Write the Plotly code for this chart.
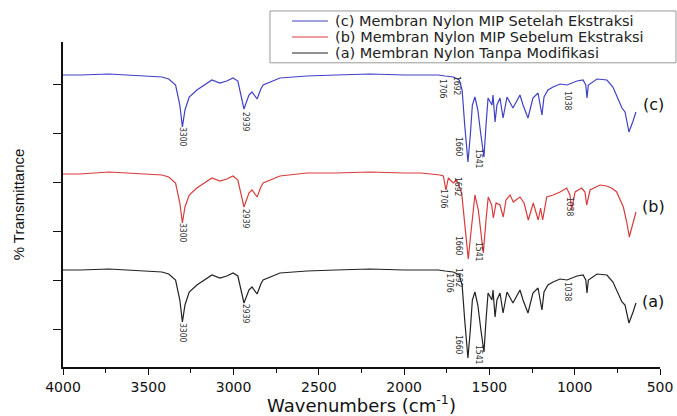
import plotly.graph_objects as go

# ---------------- data ----------------
# Wavenumber grid shared by spectra (a) and (c)
wn_ac = [4000, 3900, 3730, 3600, 3490, 3420, 3380, 3340, 3315, 3300, 3285, 3260, 3215,
         3127, 3080, 3040, 3003, 2975, 2939, 2910, 2892, 2862, 2840, 2827, 2728, 2570,
         2400, 2200, 2000, 1900, 1800, 1760, 1712, 1677, 1660, 1645, 1626, 1612, 1600,
         1585, 1568, 1550, 1532, 1520, 1508, 1485, 1479, 1467, 1456, 1438, 1420, 1397,
         1379, 1362, 1321, 1303, 1274, 1245, 1215, 1192, 1180, 1157, 1127, 1086, 1045,
         987, 951, 935, 928, 920, 869, 811, 776, 746, 723, 705, 682, 658, 641]

# (a) Membran Nylon Tanpa Modifikasi (offset transmittance, arbitrary units)
t_a = [97, 97, 98, 97, 96, 95, 93, 87, 67, 45, 62, 75, 82,
       92, 89, 91, 94, 91, 64, 77, 80, 73, 83, 87, 94, 96,
       97, 98, 97, 97, 97, 96, 95, 92, 82, 47, 9, 37, 67,
       75, 62, 37, 15, 47, 74, 67, 77, 50, 67, 74, 54, 75,
       69, 64, 77, 67, 54, 74, 79, 57, 75, 82, 85, 88, 87,
       91, 92, 87, 74, 87, 93, 92, 85, 74, 65, 62, 44, 55, 64]

# (c) Membran Nylon MIP Setelah Ekstraksi
t_c = [292, 292, 293, 292, 291, 290, 288, 282, 262, 240, 257, 270, 277,
       287, 284, 286, 289, 286, 258, 272, 275, 268, 278, 282, 289, 291,
       292, 293, 292, 292, 292, 291, 290, 287, 277, 242, 205, 232, 262,
       270, 257, 232, 210, 242, 269, 262, 272, 245, 262, 269, 249, 270,
       264, 259, 272, 262, 249, 269, 274, 252, 270, 277, 280, 283, 282,
       286, 287, 282, 269, 282, 288, 287, 280, 269, 259, 255, 235, 246, 255]

# (b) Membran Nylon MIP Sebelum Ekstraksi
wn_b = [4000, 3900, 3730, 3600, 3490, 3420, 3380, 3340, 3315, 3300, 3285, 3260, 3215,
        3127, 3080, 3040, 3003, 2975, 2939, 2910, 2892, 2862, 2840, 2827, 2728, 2570,
        2400, 2200, 2000, 1900, 1790, 1770, 1755, 1741, 1712, 1692, 1663, 1643, 1624,
        1610, 1585, 1565, 1536, 1520, 1507, 1487, 1477, 1461, 1438, 1419, 1403, 1379,
        1360, 1321, 1297, 1272, 1243, 1214, 1200, 1188, 1164, 1126, 1086, 1047, 1028,
        1018, 998, 959, 940, 930, 910, 852, 813, 784, 754, 715, 695, 680, 656, 641]
t_b = [193, 193, 195, 194, 193, 192, 190, 184, 164, 144, 160, 172, 179,
       189, 186, 188, 191, 187, 160, 174, 177, 170, 180, 184, 191, 194,
       194, 195, 194, 194, 192, 191, 177, 189, 184, 187, 174, 142, 108,
       132, 172, 157, 114, 147, 170, 162, 149, 164, 162, 150, 167, 172,
       165, 170, 164, 147, 164, 147, 159, 147, 170, 172, 175, 179, 172,
       157, 175, 179, 175, 162, 177, 182, 181, 179, 175, 160, 145, 130, 147, 155]

series_names = ["(c) Membran Nylon MIP Setelah Ekstraksi",
                "(b) Membran Nylon MIP Sebelum Ekstraksi",
                "(a) Membran Nylon Tanpa Modifikasi"]
series_colors = ["#4040c8", "#d83c3c", "#222222"]

# peak labels: (text, wavenumber, level)
peaks_a = [("3300", 3296, 34), ("2939", 2927, 53), ("1706", 1732, 84), ("1692", 1678, 89),
           ("1660", 1678, 22), ("1541", 1561, 12), ("1038", 1039, 75)]
peaks_b = [("3300", 3296, 134), ("2939", 2927, 148), ("1706", 1766, 168), ("1692", 1684, 180),
           ("1660", 1678, 121), ("1541", 1561, 115), ("1038", 1027, 160)]
peaks_c = [("3300", 3296, 230), ("2939", 2927, 245), ("1706", 1772, 278), ("1692", 1690, 281),
           ("1660", 1678, 220), ("1541", 1561, 208), ("1038", 1039, 266)]

curve_labels = [("(c)", 541, 263), ("(b)", 541, 161), ("(a)", 541, 66)]

x_ticks = [4000, 3500, 3000, 2500, 2000, 1500, 1000, 500]

FONT = "DejaVu Sans, Arial, sans-serif"

# ---------------- figure ----------------
fig = go.Figure()
for name, color, xs, ys in zip(series_names, series_colors,
                               [wn_ac, wn_b, wn_ac], [t_c, t_b, t_a]):
    fig.add_trace(go.Scatter(x=xs, y=ys, mode="lines", name=name, showlegend=False,
                             line=dict(color=color, width=1.2)))

ann_font = dict(family="Liberation Sans Narrow, DejaVu Sans Condensed, Arial Narrow, sans-serif",
                size=8.5, color="#333333")
for plist in (peaks_a, peaks_b, peaks_c):
    for txt, wn, lvl in plist:
        fig.add_annotation(x=wn, y=lvl, text=txt, showarrow=False, textangle=90,
                           font=ann_font, xref="x", yref="y", borderpad=0)

for txt, wn, lvl in curve_labels:
    fig.add_annotation(x=wn, y=lvl, text=txt, showarrow=False,
                       font=dict(family=FONT, size=16, color="#111111"))

# ---- legend box drawn in paper coordinates (styling only) ----
leg_x0, leg_x1, leg_y0, leg_y1 = 0.3467, 1.0268, 0.936, 1.0954
row_y = [1.0646, 1.0154, 0.9662]
fig.add_shape(type="rect", xref="paper", yref="paper", x0=leg_x0, x1=leg_x1, y0=leg_y0, y1=leg_y1,
              line=dict(color="#999999", width=1), fillcolor="white", layer="above")
for name, color, ry in zip(series_names, series_colors, row_y):
    fig.add_shape(type="line", xref="paper", yref="paper", x0=0.3836, x1=0.4439, y0=ry, y1=ry,
                  line=dict(color=color, width=1.2), layer="above")
    fig.add_annotation(xref="paper", yref="paper", x=0.4539, y=ry, text=name, showarrow=False,
                       xanchor="left", yanchor="middle", borderpad=0,
                       font=dict(family=FONT, size=14.5, color="#222222"))

fig.update_layout(
    width=677, height=416,
    margin=dict(l=63, r=17, t=42, b=49, autoexpand=False),
    paper_bgcolor="white", plot_bgcolor="white",
    font=dict(family=FONT, color="#111111"),
    showlegend=False,
    xaxis=dict(range=[4000, 500], tickvals=x_ticks, ticks="outside", ticklen=6,
               tickwidth=1.2, tickcolor="#111111", automargin=False,
               minor=dict(dtick=250, ticks="outside", ticklen=4, tickcolor="#111111"),
               showline=True, linecolor="#111111", linewidth=1.5, showgrid=False, zeroline=False,
               tickfont=dict(size=14),
               title=dict(text="Wavenumbers (cm<sup>-1</sup>)", font=dict(size=18), standoff=4)),
    yaxis=dict(range=[0, 325], tick0=38, dtick=49, ticks="outside", ticklen=8,
               tickwidth=1.2, tickcolor="#111111", showticklabels=False, automargin=False,
               showline=True, linecolor="#111111", linewidth=1.5, showgrid=False, zeroline=False,
               title=dict(text="% Transmittance",
                          font=dict(family="Arial, Liberation Sans, sans-serif", size=15),
                          standoff=25)),
)

fig.write_html("out.html")
